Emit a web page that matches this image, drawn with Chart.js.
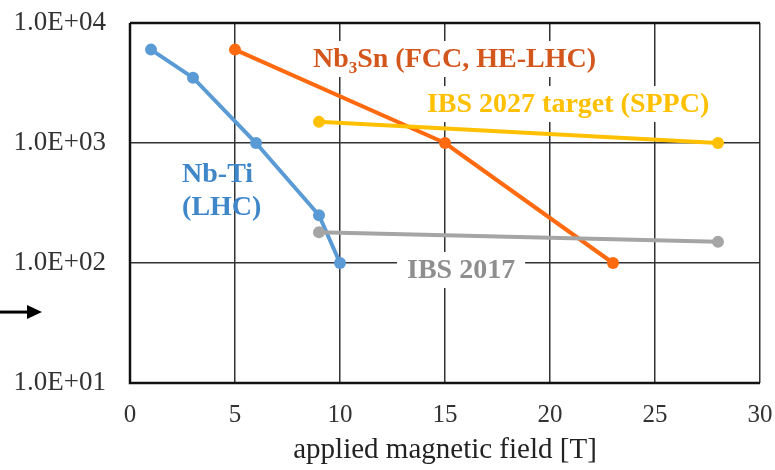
<!DOCTYPE html>
<html>
<head>
<meta charset="utf-8">
<script src="https://cdn.jsdelivr.net/npm/chart.js@4/dist/chart.umd.min.js"></script>
<style>
  html, body { margin: 0; padding: 0; background: #fff; }
  #wrap { width: 775px; height: 470px; position: relative; }
</style>
</head>
<body>
<div id="wrap"><canvas id="c" width="775" height="470"></canvas></div>
<script>
// ---- data ----
const xTicks = [0, 5, 10, 15, 20, 25, 30];
const yTicks = [10, 100, 1000, 10000];
const nbtiField = [1, 3, 6, 9, 10];
const nbtiJc = [6000, 3500, 1000, 250, 100];
const nb3snField = [5, 15, 23];
const nb3snJc = [6000, 1000, 100];
const ibs2027Field = [9, 28];
const ibs2027Jc = [1500, 1000];
const ibs2017Field = [9, 28];
const ibs2017Jc = [180, 150];
const xTitle = 'applied magnetic field [T]';

function pts(xs, ys) { return xs.map((x, i) => ({ x: x, y: ys[i] })); }

const SERIF = '"Liberation Serif", "Times New Roman", serif';

// text annotations (anchored in data coordinates)
const notes = [
  { parts: [['Nb', 28, 0], ['3', 17, 6], ['Sn (FCC, HE-LHC)', 28, 0]], x: 8.71, y: 4300, color: '#D3561D', box: true },
  { parts: [['IBS 2027 target (SPPC)', 28, 0]], x: 14.14, y: 1812, color: '#FFC000', box: true },
  { parts: [['Nb-Ti', 28, 0]], x: 2.48, y: 473, color: '#3F87C9', box: false },
  { parts: [['(LHC)', 28, 0]], x: 2.48, y: 251, color: '#3F87C9', box: false },
  { parts: [['IBS 2017', 28, 0]], x: 13.19, y: 75, color: '#8E8E8E', box: true }
];

const notesPlugin = {
  id: 'notes',
  beforeDatasetsDraw(chart) {
    const ctx = chart.ctx;
    const xs = chart.scales.x, ys = chart.scales.y;
    ctx.save();
    notes.forEach(n => {
      const px = xs.getPixelForValue(n.x);
      const py = ys.getPixelForValue(n.y);
      let w = 0;
      n.parts.forEach(p => { ctx.font = 'bold ' + p[1] + 'px ' + SERIF; w += ctx.measureText(p[0]).width; });
      if (n.box) {
        ctx.fillStyle = '#fff';
        ctx.fillRect(px - 10, py - 26, w + 20, 36);
      }
      let cx = px;
      n.parts.forEach(p => {
        ctx.font = 'bold ' + p[1] + 'px ' + SERIF;
        ctx.fillStyle = n.color;
        ctx.textBaseline = 'alphabetic';
        ctx.textAlign = 'left';
        ctx.fillText(p[0], cx, py + p[2]);
        cx += ctx.measureText(p[0]).width;
      });
    });
    const a = chart.chartArea;
    ctx.strokeStyle = '#111';
    ctx.lineWidth = 2.5;
    ctx.beginPath();
    ctx.moveTo(a.left, a.top);
    ctx.lineTo(a.left, a.bottom);
    ctx.lineTo(a.right, a.bottom);
    ctx.moveTo(a.left, a.top);
    ctx.lineTo(a.right, a.top);
    ctx.stroke();
    ctx.restore();
  },
  afterDraw(chart) {
    const ctx = chart.ctx;
    const y = chart.scales.y.getPixelForValue(39);
    ctx.save();
    ctx.strokeStyle = '#000';
    ctx.fillStyle = '#000';
    ctx.lineWidth = 3;
    ctx.beginPath();
    ctx.moveTo(0, y);
    ctx.lineTo(30, y);
    ctx.stroke();
    ctx.beginPath();
    ctx.moveTo(42, y);
    ctx.lineTo(27, y - 7);
    ctx.lineTo(27, y + 7);
    ctx.closePath();
    ctx.fill();
    ctx.restore();
  }
};

function ds(label, xs, ys, color) {
  return {
    label: label,
    data: pts(xs, ys),
    borderColor: color,
    backgroundColor: color,
    borderWidth: 4,
    pointRadius: 6,
    pointHoverRadius: 6,
    pointBorderWidth: 0,
    tension: 0
  };
}

new Chart(document.getElementById('c'), {
  type: 'line',
  data: {
    datasets: [
      ds('IBS 2017', ibs2017Field, ibs2017Jc, '#A5A5A5'),
      ds('IBS 2027 target (SPPC)', ibs2027Field, ibs2027Jc, '#FFC000'),
      ds('Nb3Sn (FCC, HE-LHC)', nb3snField, nb3snJc, '#FF6A10'),
      ds('Nb-Ti (LHC)', nbtiField, nbtiJc, '#5B9BD5')
    ]
  },
  options: {
    responsive: false,
    animation: false,
    devicePixelRatio: 1,
    layout: { padding: { top: 23, right: 15, left: 0, bottom: 0 } },
    plugins: { legend: { display: false }, tooltip: { enabled: false } },
    scales: {
      x: {
        type: 'linear',
        min: 0, max: 30,
        afterBuildTicks: s => { s.ticks = xTicks.map(v => ({ value: v })); },
        afterFit: s => { s.height = 87; s.paddingLeft = 0; s.paddingRight = 0; },
        grid: { color: '#333', lineWidth: 1.5, drawTicks: false },
        border: { display: false },
        ticks: { font: { family: SERIF, size: 25 }, color: '#333', padding: 17, maxRotation: 0 },
        title: { display: true, text: xTitle, font: { family: SERIF, size: 29 }, color: '#222', padding: { top: 0, bottom: 2 } }
      },
      y: {
        type: 'logarithmic',
        min: 10, max: 10000,
        afterBuildTicks: s => { s.ticks = yTicks.map(v => ({ value: v })); },
        afterFit: s => { s.width = 130; s.paddingTop = 0; s.paddingBottom = 0; },
        grid: { color: '#333', lineWidth: 1.5, drawTicks: false },
        border: { display: false },
        ticks: {
          font: { family: SERIF, size: 27 }, color: '#333', padding: 24,
          callback: v => '1.0E+' + String(Math.round(Math.log10(v))).padStart(2, '0')
        }
      }
    }
  },
  plugins: [notesPlugin]
});
</script>
</body>
</html>
